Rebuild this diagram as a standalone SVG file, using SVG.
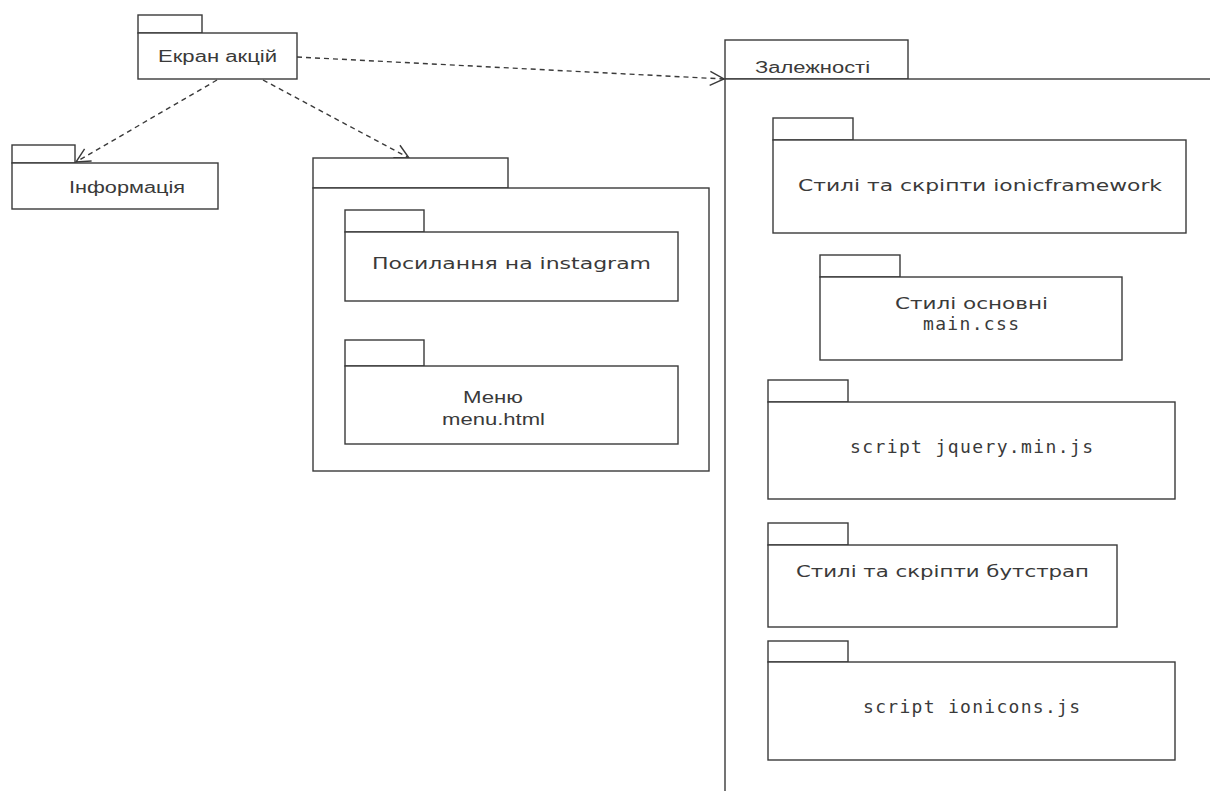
<svg xmlns="http://www.w3.org/2000/svg" width="1210" height="791" viewBox="0 0 1210 791">
  <defs>
    <style>
      .pkg { fill: #ffffff; stroke: #3a3a3a; stroke-width: 1.4; }
      .dep { fill: none; stroke: #3a3a3a; stroke-width: 1.4; stroke-dasharray: 5 4; }
      .lbl { font-family: "Liberation Sans", Arial, sans-serif; font-size: 16px; fill: #3a3a3a; }
      .wide { font-family: "DejaVu Sans", Verdana, sans-serif; font-size: 16px; fill: #3a3a3a; }
      .mono { font-family: "DejaVu Sans Mono", "Liberation Mono", monospace; font-size: 18px; fill: #3a3a3a; }
    </style>
    <marker id="open" markerUnits="userSpaceOnUse" markerWidth="18" markerHeight="18" refX="15" refY="8" orient="auto">
      <path d="M1,1 L15,8 L1,15" fill="none" stroke="#3a3a3a" stroke-width="1.4"/>
    </marker>
  </defs>
  <rect width="1210" height="791" fill="#ffffff"/>

  <!-- dependency arrows -->
  <g id="connectors">
    <line class="dep" x1="217" y1="80" x2="76" y2="162" marker-end="url(#open)"/>
    <line class="dep" x1="263" y1="80" x2="409" y2="158" marker-end="url(#open)"/>
    <line class="dep" x1="297" y1="57" x2="724" y2="79" marker-end="url(#open)"/>
  </g>

  <g id="ekran-aktsii">
    <rect class="pkg" x="138" y="15" width="64" height="18"/>
    <rect class="pkg" x="138" y="33" width="159" height="46"/>
    <text class="lbl" x="158" y="62" textLength="119" lengthAdjust="spacingAndGlyphs">Екран акцій</text>
  </g>

  <g id="informatsiia">
    <rect class="pkg" x="12" y="145" width="63" height="18"/>
    <rect class="pkg" x="12" y="163" width="206" height="46"/>
    <text class="lbl" x="69" y="193" textLength="116" lengthAdjust="spacingAndGlyphs">Інформація</text>
  </g>

  <g id="page-package">
    <rect class="pkg" x="313" y="158" width="195" height="30"/>
    <rect class="pkg" x="313" y="188" width="396" height="283"/>
    <g id="instagram-link">
      <rect class="pkg" x="345" y="210" width="79" height="22"/>
      <rect class="pkg" x="345" y="232" width="333" height="69"/>
      <text class="wide" x="372" y="269" textLength="279" lengthAdjust="spacingAndGlyphs">Посилання на instagram</text>
    </g>
    <g id="menu">
      <rect class="pkg" x="345" y="340" width="79" height="26"/>
      <rect class="pkg" x="345" y="366" width="333" height="78"/>
      <text class="lbl" x="463" y="403" textLength="60" lengthAdjust="spacingAndGlyphs">Меню</text>
      <text class="lbl" x="442" y="425" textLength="103" lengthAdjust="spacingAndGlyphs">menu.html</text>
    </g>
  </g>

  <g id="zalezhnosti">
    <rect class="pkg" x="725" y="40" width="183" height="39"/>
    <rect class="pkg" x="725" y="79" width="500" height="730"/>
    <text class="lbl" x="755" y="73" textLength="115" lengthAdjust="spacingAndGlyphs">Залежності</text>

    <g id="ionicframework">
      <rect class="pkg" x="773" y="118" width="80" height="22"/>
      <rect class="pkg" x="773" y="140" width="413" height="93"/>
      <text class="wide" x="798" y="191" textLength="364" lengthAdjust="spacingAndGlyphs">Стилі та скріпти ionicframework</text>
    </g>

    <g id="main-css">
      <rect class="pkg" x="820" y="255" width="80" height="22"/>
      <rect class="pkg" x="820" y="277" width="302" height="83"/>
      <text class="wide" x="895" y="309" textLength="153" lengthAdjust="spacingAndGlyphs">Стилі основні</text>
      <text class="mono" x="923" y="330" textLength="96" lengthAdjust="spacing">main.css</text>
    </g>

    <g id="jquery">
      <rect class="pkg" x="768" y="380" width="80" height="22"/>
      <rect class="pkg" x="768" y="402" width="407" height="97"/>
      <text class="mono" x="850" y="453" textLength="243" lengthAdjust="spacing">script jquery.min.js</text>
    </g>

    <g id="bootstrap">
      <rect class="pkg" x="768" y="523" width="80" height="22"/>
      <rect class="pkg" x="768" y="545" width="349" height="82"/>
      <text class="wide" x="796" y="577" textLength="293" lengthAdjust="spacingAndGlyphs">Стилі та скріпти бутстрап</text>
    </g>

    <g id="ionicons">
      <rect class="pkg" x="768" y="641" width="80" height="21"/>
      <rect class="pkg" x="768" y="662" width="407" height="98"/>
      <text class="mono" x="863" y="713" textLength="217" lengthAdjust="spacing">script ionicons.js</text>
    </g>
  </g>
</svg>
